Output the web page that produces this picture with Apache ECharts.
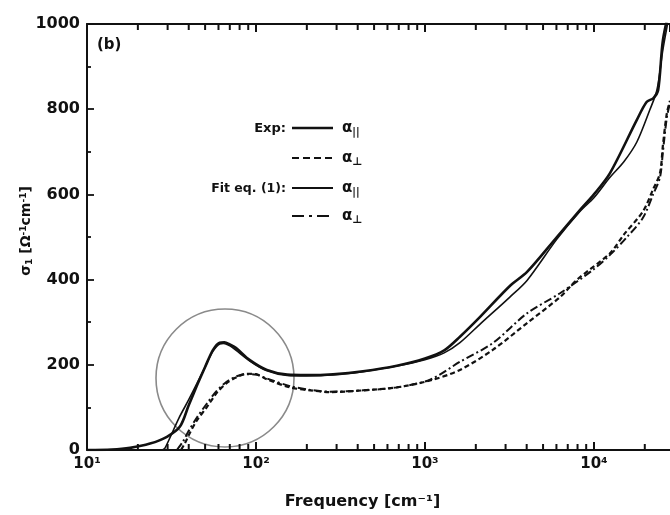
<!DOCTYPE html>
<html><head><meta charset="utf-8">
<script src="https://cdn.jsdelivr.net/npm/echarts@6/dist/echarts.min.js"></script>
<style>html,body{margin:0;padding:0;background:#fff}#c{width:670px;height:515px}</style>
</head><body><div id="c"></div>
<script>
// ---- data ----
const expParFreq = [10,14,18,23.6,29.7,35.5,40,44.6,50,55.7,61,65,70,76,92,116,153,200,286,430,682,1000,1300,1611,2113,3180,4020,6040,8260,10000,12450,17950,20500,22500,24000,25600,28200];
const expParVal  = [0,1,5,15,31,55,105,150,195,235,252,253,248,240,211,188,177,176,178,185,198,215,234,266,312,385,418,500,563,600,650,775,817,826,845,962,1040];
const fitParFreq = [28,29,35,40,44.6,50,55.7,61,64,68,73,92,116,153,200,286,430,682,1000,1300,1611,2113,3180,4020,6040,8260,10000,12450,15000,17950,21400,23600,25600,28200];
const fitParVal  = [0,5,75,118,155,195,232,249,250,247,240,209,186,175,174,176,184,197,212,228,252,295,359,398,495,560,592,640,676,723,798,845,940,1030];
const expPerpFreq = [36,38,40.6,44.8,51.3,58.6,67,77,88,100,116,159,210,274,430,682,1072,1611,2520,4020,6300,7900,12450,15000,19500,22400,24600,25600,27000,28200];
const expPerpVal  = [0,16,40,70,101,134,157,171,179,178,166,147,140,136,140,147,163,188,235,298,359,399,462,505,560,612,650,715,790,820];
const fitPerpFreq = [34,37,40,45,51,58,67,77,88,100,116,159,210,274,430,682,1072,1611,2520,4020,6300,9800,12450,15700,19500,22400,24600,25600,27000,28200];
const fitPerpVal  = [0,20,45,78,108,137,160,173,178,177,168,150,141,137,140,147,165,207,251,321,368,422,458,500,545,600,640,700,780,815];
const minorTickFreqs = [20,30,40,50,60,70,80,90,200,300,400,500,600,700,800,900,2000,3000,4000,5000,6000,7000,8000,9000,20000];
const yMin = 0, yMax = 1000;
const xMin = 10, xMax = 28200;

const zip = (f, v) => f.map((x, i) => [x, v[i]]);
const supMap = {'1':'¹','2':'²','3':'³','4':'⁴'};

const chart = echarts.init(document.getElementById('c'), null, {renderer:'canvas'});
const FF = 'DejaVu Sans, Liberation Sans, Arial, sans-serif';
const axisFont = {fontFamily:FF, fontWeight:'bold', color:'#111'};

const option = {
  backgroundColor:'#fff',
  animation:false,
  grid:{left:87, right:0, top:24, bottom:65, containLabel:false},
  xAxis:[{
    type:'log', logBase:10, min:xMin, max:xMax, position:'bottom',
    axisLine:{show:true, onZero:false, lineStyle:{color:'#111', width:2}},
    axisTick:{show:true, inside:true, length:8, lineStyle:{color:'#111', width:2}},
    splitLine:{show:false},
    axisLabel:{show:true, margin:7, showMaxLabel:false, ...axisFont, fontSize:15,
      formatter:v => '10' + (supMap[String(Math.round(Math.log10(v)))] || '')},
    name:'Frequency [cm⁻¹]', nameLocation:'middle', nameGap:44, nameMoveOverlap:false,
    nameTextStyle:{...axisFont, fontSize:16, padding:[0,32,0,0]}
  },{
    type:'log', logBase:10, min:xMin, max:xMax, position:'top',
    axisLine:{show:true, onZero:false, lineStyle:{color:'#111', width:2}},
    axisTick:{show:true, inside:true, length:8, lineStyle:{color:'#111', width:2}},
    axisLabel:{show:false}, splitLine:{show:false}
  }],
  yAxis:{
    type:'value', min:yMin, max:yMax, interval:200,
    axisLine:{show:true, onZero:false, lineStyle:{color:'#111', width:2}},
    axisTick:{show:true, inside:true, length:7, lineStyle:{color:'#111', width:1.8}},
    minorTick:{show:true, splitNumber:2, length:4, lineStyle:{color:'#111', width:1.8}},
    splitLine:{show:false},
    axisLabel:{margin:7, ...axisFont, fontSize:16, formatter:v => String(v)},
    name:'σ{sub|1} [Ω{sup|-1}cm{sup|-1}]', nameLocation:'middle', nameGap:53, nameRotate:90, nameMoveOverlap:false,
    nameTextStyle:{...axisFont, fontSize:14, padding:[0,0,0,12],
      rich:{sub:{fontFamily:FF, fontWeight:'bold', fontSize:9, color:'#111', verticalAlign:'bottom', padding:[5,0,0,0]},
            sup:{fontFamily:FF, fontWeight:'bold', fontSize:9, color:'#111', verticalAlign:'top', padding:[0,0,6,0]}}}
  },
  series:[
    {name:'Exp α∥', type:'line', data:zip(expParFreq, expParVal), showSymbol:false, smooth:0.3,
      lineStyle:{color:'#111', width:2.6}},
    {name:'Fit α∥', type:'line', data:zip(fitParFreq, fitParVal), showSymbol:false, smooth:0.3,
      lineStyle:{color:'#111', width:1.6}},
    {name:'Exp α⊥', type:'line', data:zip(expPerpFreq, expPerpVal), showSymbol:false, smooth:0.3,
      lineStyle:{color:'#111', width:2.2, type:[5,3]}},
    {name:'Fit α⊥', type:'line', data:zip(fitPerpFreq, fitPerpVal), showSymbol:false, smooth:0.3,
      lineStyle:{color:'#111', width:2, type:[8,3,2,3]}},
    {name:'minor ticks bottom', type:'custom', silent:true, clip:false, z:100,
      data:minorTickFreqs.map(f => [f, yMin]),
      renderItem:(params, api) => {
        const p = api.coord([api.value(0), api.value(1)]);
        return {type:'rect', shape:{x:p[0]-1, y:p[1]-6, width:2, height:6}, style:{fill:'#111'}};
      }},
    {name:'minor ticks top', type:'custom', silent:true, clip:false, z:100,
      data:minorTickFreqs.map(f => [f, yMax]),
      renderItem:(params, api) => {
        const p = api.coord([api.value(0), api.value(1)]);
        return {type:'rect', shape:{x:p[0]-1, y:p[1], width:2, height:6}, style:{fill:'#111'}};
      }}
  ],
  graphic:[
    {type:'text', left:97, top:38, style:{text:'(b)', font:'bold 15px DejaVu Sans, Arial', fill:'#111'}},
    {type:'circle', shape:{cx:225, cy:378, r:69}, style:{fill:'none', stroke:'#8a8a8a', lineWidth:1.6}},
    // legend
    {type:'text', x:286, y:129, style:{text:'Exp:', font:'bold 13px DejaVu Sans, Arial', fill:'#111', align:'right', verticalAlign:'middle'}},
    {type:'line', shape:{x1:292, y1:128, x2:333, y2:128}, style:{stroke:'#111', lineWidth:2.4}},
    {type:'text', x:342, y:128, style:{text:'α{s|||}', font:'bold 15px DejaVu Sans, Arial', fill:'#111', verticalAlign:'middle',
      rich:{s:{font:'bold 10px DejaVu Sans, Arial', fill:'#111', padding:[8,0,0,0]}}}},
    {type:'line', shape:{x1:292, y1:158, x2:333, y2:158}, style:{stroke:'#111', lineWidth:2.2, lineDash:[7,4]}},
    {type:'text', x:342, y:158, style:{text:'α{s|⊥}', font:'bold 15px DejaVu Sans, Arial', fill:'#111', verticalAlign:'middle',
      rich:{s:{font:'bold 11px DejaVu Sans, Arial', fill:'#111', padding:[8,0,0,0]}}}},
    {type:'text', x:286, y:189, style:{text:'Fit eq. (1):', font:'bold 12.5px DejaVu Sans, Arial', fill:'#111', align:'right', verticalAlign:'middle'}},
    {type:'line', shape:{x1:292, y1:188, x2:333, y2:188}, style:{stroke:'#111', lineWidth:1.8}},
    {type:'text', x:342, y:188, style:{text:'α{s|||}', font:'bold 15px DejaVu Sans, Arial', fill:'#111', verticalAlign:'middle',
      rich:{s:{font:'bold 10px DejaVu Sans, Arial', fill:'#111', padding:[8,0,0,0]}}}},
    {type:'line', shape:{x1:292, y1:216, x2:333, y2:216}, style:{stroke:'#111', lineWidth:2.2, lineDash:[12,5,3,5]}},
    {type:'text', x:342, y:216, style:{text:'α{s|⊥}', font:'bold 15px DejaVu Sans, Arial', fill:'#111', verticalAlign:'middle',
      rich:{s:{font:'bold 11px DejaVu Sans, Arial', fill:'#111', padding:[8,0,0,0]}}}}
  ]
};
chart.setOption(option);
</script>
</body></html>
